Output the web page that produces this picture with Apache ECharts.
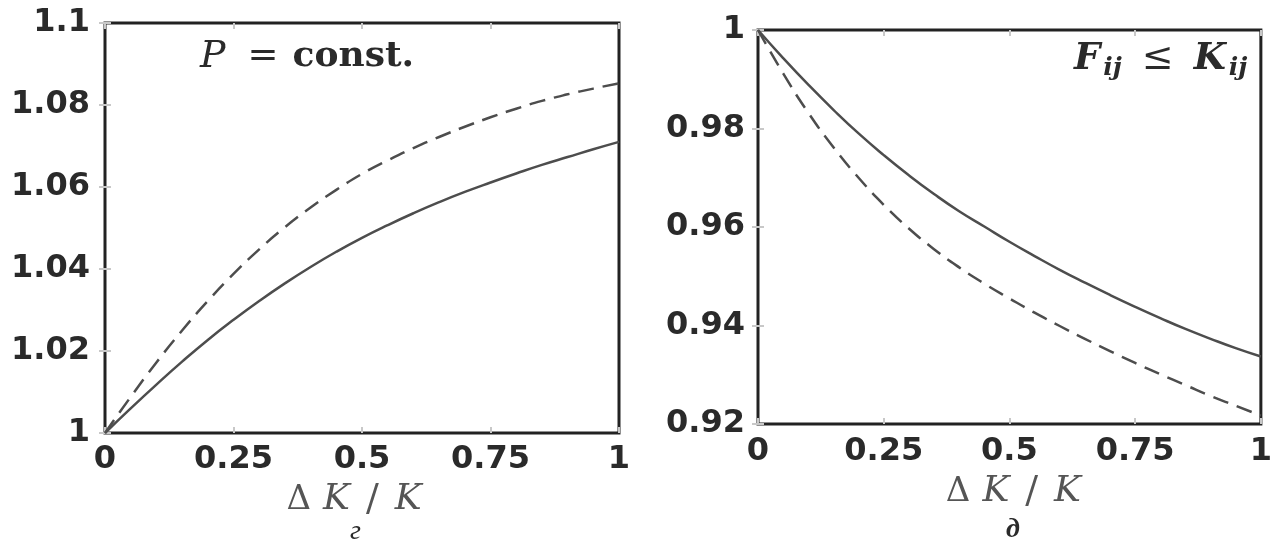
<!DOCTYPE html>
<html>
<head>
<meta charset="utf-8">
<script src="https://cdn.jsdelivr.net/npm/echarts@6/dist/echarts.min.js"></script>
<style>
  html, body { margin: 0; padding: 0; background: #fff; }
  #chart { width: 1275px; height: 549px; }
</style>
</head>
<body>
<div id="chart"></div>
<script>
// x = ΔK/K
const xs = [0, 0.05, 0.1, 0.15, 0.2, 0.25, 0.3, 0.35, 0.4, 0.45, 0.5,
  0.55, 0.6, 0.65, 0.7, 0.75, 0.8, 0.85, 0.9, 0.95, 1];

// panel г : P = const.
const leftSolid = [1.0, 1.006, 1.0118, 1.0174, 1.0227, 1.0276, 1.0322, 1.0365, 1.0405, 1.0442, 1.0476,
  1.0507, 1.0536, 1.0563, 1.0588, 1.0611, 1.0633, 1.0654, 1.0673, 1.0692, 1.071];
const leftDashed = [1.0, 1.0088, 1.0172, 1.025, 1.0322, 1.0388, 1.0448, 1.0502, 1.055, 1.0593, 1.0632,
  1.0665, 1.0695, 1.0722, 1.0747, 1.077, 1.0791, 1.081, 1.0826, 1.084, 1.0853];

// panel д : F_ij <= K_ij
const rightSolid = [1.0, 0.9943, 0.9889, 0.9838, 0.979, 0.9746, 0.9705, 0.9667, 0.9632, 0.9601, 0.957,
  0.9541, 0.9513, 0.9487, 0.9462, 0.9438, 0.9415, 0.9393, 0.9373, 0.9354, 0.9337];
const rightDashed = [1.0, 0.9912, 0.9832, 0.9762, 0.97, 0.9645, 0.9597, 0.9555, 0.9518, 0.9485, 0.9455,
  0.9426, 0.9399, 0.9373, 0.9348, 0.9324, 0.9301, 0.9279, 0.9257, 0.9237, 0.9217];

// axis ranges / ticks
const xRange = [0, 1, 0.25];
const leftYRange = [1, 1.1, 0.02];
const rightYRange = [0.92, 1, 0.02];

const ink = '#2a2a2a';
const curve = '#4d4d4d';
const tickFont = { fontFamily: 'DejaVu Sans', fontWeight: 'bold', fontSize: 32, color: ink, lineHeight: 32 };

const chart = echarts.init(document.getElementById('chart'));

function pairs(vals) {
  return xs.map((x, i) => [x, vals[i]]);
}

function xAxisFor(grid, pos, margin, gap, namePad) {
  return {
    type: 'value', gridIndex: grid, position: pos,
    min: xRange[0], max: xRange[1], interval: xRange[2],
    axisLine: { show: false },
    axisTick: { show: true, inside: true, length: 6, lineStyle: { color: '#c8c8c8', width: 2 } },
    splitLine: { show: false },
    axisLabel: pos === 'bottom' ? Object.assign({ margin: margin }, tickFont) : { show: false },
    name: pos === 'bottom' ? '{d|Δ}{k|K}{s|/}{k|K}' : '',
    nameLocation: 'middle',
    nameGap: gap || 0,
    nameTextStyle: {
      padding: namePad || 0,
      rich: {
        d: { fontFamily: 'DejaVu Serif', fontSize: 34, color: '#555', padding: [0, 12, 0, 0] },
        k: { fontFamily: 'DejaVu Serif', fontStyle: 'italic', fontSize: 36, color: '#555' },
        s: { fontFamily: 'DejaVu Serif', fontSize: 38, color: '#555', padding: [0, 16] }
      }
    }
  };
}

function yAxisFor(grid, pos, range, margin) {
  return {
    type: 'value', gridIndex: grid, position: pos,
    min: range[0], max: range[1], interval: range[2],
    axisLine: { show: false },
    axisTick: { show: true, inside: true, length: 6, lineStyle: { color: '#c8c8c8', width: 2 } },
    splitLine: { show: false },
    axisLabel: pos === 'left' ? Object.assign({ margin: margin }, tickFont) : { show: false }
  };
}

function line(xi, yi, vals, dashed) {
  return {
    type: 'line', xAxisIndex: xi, yAxisIndex: yi,
    data: pairs(vals), smooth: true, showSymbol: false, silent: true,
    lineStyle: { color: curve, width: 2.5, type: dashed ? [16, 9] : 'solid' },
    z: 3
  };
}

chart.setOption({
  backgroundColor: '#fff',
  animation: false,
  grid: [
    { left: 105, top: 23, right: 656, bottom: 116, show: true, borderColor: '#222', borderWidth: 3, backgroundColor: 'transparent' },
    { left: 758, top: 30, right: 7, bottom: 125, show: true, borderColor: '#222', borderWidth: 3, backgroundColor: 'transparent' }
  ],
  xAxis: [
    xAxisFor(0, 'bottom', 11, 42, [0, 16, 0, 0]),
    xAxisFor(1, 'bottom', 12, 43, [0, 0, 0, 8]),
    xAxisFor(0, 'top'),
    xAxisFor(1, 'top')
  ],
  yAxis: [
    yAxisFor(0, 'left', leftYRange, 15),
    yAxisFor(1, 'left', rightYRange, 13),
    yAxisFor(0, 'right', leftYRange),
    yAxisFor(1, 'right', rightYRange)
  ],
  series: [
    line(0, 0, leftSolid, false),
    line(0, 0, leftDashed, true),
    line(1, 1, rightSolid, false),
    line(1, 1, rightDashed, true)
  ],
  graphic: [
    {
      type: 'text', left: 200, top: 38, z: 10,
      style: {
        text: '{p|P}{e|=}{c|const.}',
        rich: {
          p: { fontFamily: 'DejaVu Serif', fontStyle: 'italic', fontSize: 38, fill: ink, padding: [0, 22, 0, 0] },
          e: { fontFamily: 'DejaVu Serif', fontSize: 37, fill: ink, padding: [0, 14, 0, 0] },
          c: { fontFamily: 'DejaVu Serif', fontWeight: 'bold', fontSize: 36, fill: ink }
        }
      }
    },
    {
      type: 'text', left: 1074, top: 40, z: 10,
      style: {
        text: '{f|F}{s|ij}{e|≤}{f|K}{s|ij}',
        rich: {
          f: { fontFamily: 'DejaVu Serif', fontStyle: 'italic', fontWeight: 'bold', fontSize: 37, fill: ink, lineHeight: 44 },
          s: { fontFamily: 'DejaVu Serif', fontStyle: 'italic', fontWeight: 'bold', fontSize: 25, fill: ink, verticalAlign: 'bottom', padding: [0, 0, 0, 3] },
          e: { fontFamily: 'DejaVu Serif', fontSize: 38, fill: ink, padding: [0, 20, 0, 20], lineHeight: 44 }
        }
      }
    },
    {
      type: 'text', left: 350, top: 518, z: 10,
      style: { text: 'г', fontFamily: 'Liberation Serif', fontStyle: 'italic', fontSize: 28, fill: ink }
    },
    {
      type: 'text', left: 1006, top: 516, z: 10,
      style: { text: 'д', fontFamily: 'Liberation Serif', fontStyle: 'italic', fontWeight: 'bold', fontSize: 28, fill: ink }
    }
  ]
});
</script>
</body>
</html>
